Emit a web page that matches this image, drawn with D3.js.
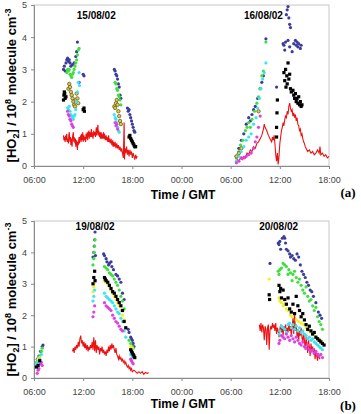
<!DOCTYPE html>
<html>
<head>
<meta charset="utf-8">
<script src="https://cdn.jsdelivr.net/npm/d3@7"></script>
<style>
body { margin: 0; background: #fff; }
text { font-family: Arial, "Liberation Sans", sans-serif; }
</style>
</head>
<body>
<svg id="chart" width="361" height="414"></svg>
<script>
// hours counted from 00:00 of the first day shown in each panel
const hourTicks = [6, 12, 18, 24, 30, 36, 42];
const yTicks = [0, 1, 2, 3, 4, 5];

// ---- panel (a): 15/08/02 and 16/08/02 ----
const aBlue = [[9.6,3.0],[9.7,3.1],[9.8,2.95],[9.9,3.2],[10.0,3.3],[10.1,3.35],[10.2,3.25],[10.3,3.3],[10.4,3.2],[10.5,3.1],[10.7,3.15],[10.9,3.2],[11.1,3.4],[11.2,3.55],[11.3,3.85],[11.5,2.6],[12.0,2.85],[12.1,2.8],
  [15.8,3.0],[15.9,2.95],[16.0,2.85],[16.1,2.8],[16.2,2.7],[16.3,2.55],[16.4,2.45],[16.5,2.2],[16.6,2.1],[17.4,1.8],[17.5,1.7],[17.6,1.75],[17.7,1.6],[17.8,1.5],[17.9,1.4],[18.0,1.3],[18.1,1.2],[18.2,1.1],[18.3,1.05],
  [30.7,0.3],[31.0,0.55],[31.3,0.8],[31.6,1.0],[31.9,1.3],[32.2,1.5],[32.4,1.4],[32.6,1.6],[32.8,1.75],[33.0,1.85],[33.3,2.1],[33.6,2.4],[33.8,2.6],[34.0,2.8],[34.3,3.95],[35.6,2.45],
  [36.4,3.8],[36.5,3.75],[36.6,3.6],[36.7,3.85],[36.8,4.7],[36.9,4.85],[37.0,4.95],[37.1,4.6],[37.2,4.4],[37.3,4.3],[37.0,3.9],[37.2,3.7],[37.5,3.55],[37.7,3.8],[37.9,3.9],[38.0,3.75],[38.1,3.85],[38.2,3.7],[38.3,3.8],[38.5,3.65],[38.6,3.75]];
const aGreen = [[10.0,2.9],[10.1,3.0],[10.2,2.95],[10.3,3.0],[10.4,2.85],[10.5,2.8],[10.6,2.75],[10.7,2.85],[10.8,2.9],[10.9,3.0],[11.0,3.1],[11.1,3.2],[11.2,3.3],[11.3,3.45],[11.4,3.6],[11.5,3.65],
  [15.9,2.6],[16.0,2.55],[16.1,2.4],[16.2,2.35],[16.3,2.2],[16.4,2.15],[16.5,2.05],[16.6,1.9],
  [30.7,0.25],[31.0,0.45],[31.2,0.65],[31.5,0.8],[31.8,1.1],[32.0,1.2],[32.2,1.35],[32.4,1.2],[32.6,1.45],[32.9,1.7],[33.2,1.95],[33.4,2.15],[33.6,2.4],[33.8,2.8],[34.0,2.95],[34.3,3.85]];
const aOlive = [[10.2,2.4],[10.3,2.55],[10.4,2.45],[10.5,2.3],[10.6,2.2],[10.7,2.1],[10.8,2.0],[10.9,1.9],[11.0,1.85],[11.1,2.05],[11.2,2.25],[11.3,2.1],[11.4,1.95],
  [15.8,1.85],[15.9,1.8],[16.0,1.95],[16.1,2.05],[16.2,1.9],[16.3,1.7],[16.4,1.55],[16.5,1.4],[16.6,1.3],
  [30.7,0.3],[31.0,0.4],[31.3,0.55],[33.4,1.7]];
const aBlack = [[9.6,2.05],[9.65,2.2],[9.7,2.3],[9.75,2.25],[9.8,2.1],[9.9,2.15],[12.0,1.75],[12.1,1.8],[12.15,1.7],
  [17.6,0.9],[17.7,0.95],[17.8,0.85],[17.9,0.8],[18.0,0.75],[18.1,0.7],[18.2,0.65],[18.3,0.6],[18.4,0.6],
  [35.6,0.9],[35.6,1.2],[35.65,1.65],[35.7,2.05],
  [36.5,2.9],[36.6,2.65],[36.7,3.0],[36.75,2.45],[36.85,2.8],[36.9,2.55],[37.0,3.2],[37.1,2.7],[37.2,2.85],[37.3,2.4],[37.4,2.3],[37.6,2.35],[37.7,2.2],[37.8,2.1],[37.9,2.25],[38.0,2.0],[38.1,2.1],[38.2,1.95],[38.3,2.15],[38.4,1.9],[38.5,2.0],[38.6,1.85],[38.7,1.9]];
const aCyan = [[10.1,1.8],[10.2,1.75],[10.3,1.85],[10.4,1.7],[10.5,1.6],[10.6,1.55],[10.7,1.5],[10.8,1.45],[10.9,1.55],[11.0,1.6],[11.1,1.75],[11.2,2.0],[11.3,2.3],[11.4,2.6],[11.5,2.9],[11.55,2.5],
  [15.8,1.6],[15.9,1.5],[16.0,1.45],[16.1,1.35],[16.2,1.2],[16.3,1.1],[16.4,1.05],
  [30.7,0.15],[31.0,0.3],[31.3,0.45],[31.6,0.6],[31.9,0.8],[32.2,0.9],[32.5,1.0],[32.8,1.3],[33.1,1.5],[33.3,1.8],[33.5,2.1],[33.7,2.4],[33.9,2.7],[34.1,2.9],[34.3,3.2]];
const aMagenta = [[10.1,1.7],[10.2,1.6],[10.3,1.55],[10.4,1.45],[10.5,1.4],[10.6,1.3],[10.7,1.25],[10.8,1.2],
  [15.9,1.35],[16.0,1.25],[16.1,1.3],[16.2,1.15],
  [30.7,0.1],[31.0,0.15],[31.3,0.25],[31.6,0.25],[31.9,0.3],[32.2,0.35],[32.5,0.4],[32.8,0.55],[33.0,0.75],[33.2,0.9],[33.4,1.2],[33.6,1.55]];
const aRed1 = [[9.6,0.95],[9.65,0.8],[9.7,0.9],[9.8,0.75],[9.85,0.95],[9.9,0.8],[10.0,1.0],[10.05,0.75],[10.1,0.85],[10.2,0.7],[10.25,0.95],[10.3,1.05],[10.4,0.75],[10.45,0.9],[10.5,0.65],[10.6,0.85],[10.65,0.6],[10.7,0.9],[10.8,1.05],[10.85,0.75],[10.9,0.9],[11.0,0.7],[11.05,0.85],[11.1,0.6],[11.2,0.8],[11.3,0.5],[11.35,0.75],[11.4,0.65],[11.5,0.9],[11.55,0.7],[11.6,0.85],[11.7,0.95],[11.75,0.75],[11.8,1.0],[11.9,0.8],[11.95,1.05],[12.0,0.75],[12.1,0.95],[12.15,0.8],[12.2,0.9],[12.3,0.75],[12.35,1.0],[12.4,0.85],[12.5,1.05],[12.55,0.8],[12.6,0.95],[12.7,1.1],[12.75,0.85],[12.8,1.05],[12.9,0.9],[13.0,1.15],[13.05,0.9],[13.1,1.05],[13.2,0.85],[13.3,1.1],[13.35,0.95],[13.4,1.05],[13.5,0.9],[13.6,1.2],[13.65,0.95],[13.7,1.05],[13.8,1.28],[13.85,0.95],[13.9,1.1],[14.0,0.9],[14.05,1.05],[14.1,0.85],[14.2,1.05],[14.25,0.85],[14.3,1.0],[14.4,0.85],[14.5,1.05],[14.55,0.85],[14.6,1.0],[14.7,0.8],[14.8,0.95],[14.85,0.8],[14.9,0.9],[15.0,0.75],[15.1,0.95],[15.15,0.75],[15.2,0.85],[15.3,0.7],[15.4,0.85],[15.5,0.65],[15.6,0.8],[15.65,0.6],[15.7,0.75],[15.8,0.6],[15.9,0.75],[16.0,0.55],[16.1,0.7],[16.2,0.55],[16.3,0.65],[16.4,0.5],[16.5,0.6],[16.6,0.45],[16.7,0.55],[16.8,0.4],[16.9,0.25],[17.0,1.35],[17.05,0.2],[17.1,0.55],[17.2,0.4],[17.3,0.6],[17.4,0.35],[17.5,0.5],[17.6,0.3],[17.7,0.5],[17.8,0.35],[17.9,0.45],[18.0,0.25],[18.1,0.4],[18.2,0.3],[18.3,0.2],[18.4,0.35],[18.5,0.25],[18.6,0.3]];
const aRed2 = [[30.6,0.12],[30.8,0.2],[31.0,0.15],[31.2,0.25],[31.4,0.2],[31.6,0.3],[31.8,0.25],[32.0,0.4],[32.2,0.35],[32.4,0.5],[32.6,0.45],[32.8,0.6],[33.0,0.55],[33.2,0.7],[33.4,0.75],[33.6,0.85],[33.8,0.95],[34.0,1.15],[34.1,1.3],[34.2,1.2],[34.4,1.1],[34.6,0.95],[34.8,0.85],[35.0,0.75],[35.1,0.9],[35.2,0.8],[35.3,0.95],[35.4,0.7],[35.5,0.35],[35.6,0.15],[35.7,0.4],[35.8,0.05],[35.9,0.3],[36.0,0.7],[36.1,0.9],[36.2,1.1],[36.3,1.2],[36.4,1.35],[36.5,1.25],[36.6,1.45],[36.7,1.55],[36.8,1.5],[36.9,1.7],[37.0,1.6],[37.1,1.85],[37.2,1.95],[37.3,1.8],[37.4,1.7],[37.5,1.75],[37.6,1.55],[37.7,1.65],[37.8,1.5],[37.9,1.6],[38.0,1.4],[38.1,1.5],[38.2,1.3],[38.3,1.25],[38.4,1.1],[38.5,1.15],[38.6,0.95],[38.7,1.0],[38.8,0.85],[38.9,0.75],[39.0,0.7],[39.1,0.6],[39.2,0.55],[39.3,0.5],[39.4,0.45],[39.6,0.5],[39.8,0.4],[40.0,0.45],[40.2,0.35],[40.4,0.4],[40.6,0.5],[40.8,0.4],[40.9,0.6],[41.0,0.35],[41.2,0.4],[41.4,0.3],[41.6,0.35],[41.8,0.25],[42.0,0.3]];

// ---- panel (b): 19/08/02 and 20/08/02 ----
const bBlue = [[6.4,0.6],[6.6,0.7],[6.8,0.85],[7.0,1.0],[7.1,1.05],
  [13.2,3.85],[13.3,4.0],[13.35,4.2],[13.4,4.4],[13.45,4.65],[13.5,3.9],
  [14.5,3.95],[14.6,3.9],[14.8,3.8],[14.9,3.7],[15.1,3.6],[15.2,3.65],[15.4,3.7],[15.5,3.55],[15.7,3.45],[16.0,3.3],[16.2,3.25],[16.4,3.15],[16.6,3.05],[16.8,2.7],[17.0,2.5],[17.5,1.55],[17.6,1.45],[17.8,1.3],[17.9,1.25],[18.0,1.2],[18.1,1.1],[18.2,1.0],
  [34.8,3.65],[35.8,4.3],[35.9,4.25],[36.0,4.35],[36.1,4.1],[36.3,4.45],[36.5,4.5],[36.6,4.45],[36.7,4.3],[36.8,4.1],[37.0,4.05],[37.2,3.95],[37.3,3.85],[37.5,3.9],[37.7,3.8],[37.9,3.75],[38.1,3.95],[38.3,3.85],[38.5,3.6],[38.7,3.4],[38.9,3.3],[39.1,3.2],[39.3,3.05],[39.5,2.95],[39.7,2.8],[39.9,2.75],[40.1,2.6],[40.4,2.4],[40.7,2.1],[40.9,2.0],[41.1,1.9]];
const bGreen = [[6.3,0.5],[6.5,0.6],[6.7,0.7],[6.9,0.85],[7.0,0.95],
  [13.2,3.6],[13.3,3.8],[13.35,4.0],[13.4,4.2],[13.45,4.4],
  [14.6,3.55],[14.8,3.5],[15.0,3.45],[15.2,3.35],[15.4,3.3],[15.6,3.25],[15.8,3.15],[16.0,3.05],[16.2,2.95],[16.4,2.8],[16.6,2.6],[16.8,2.45],[17.0,2.2],[17.6,1.2],[17.8,1.1],[18.0,1.0],[18.1,0.95],
  [35.8,3.4],[35.9,3.3],[36.0,3.45],[36.2,3.5],[36.4,3.65],[36.6,3.6],[36.8,3.55],[37.0,3.3],[37.1,3.45],[37.3,3.35],[37.5,3.1],[37.6,3.3],[37.8,3.4],[38.0,3.2],[38.2,3.05],[38.4,3.15],[38.6,2.95],[38.8,2.8],[39.0,2.7],[39.2,2.9],[39.4,2.6],[39.6,2.45],[39.8,2.5],[40.0,2.3],[40.2,2.15],[40.4,2.25],[40.6,1.95],[40.8,1.8],[41.0,1.7],[41.2,1.55]];
const bYellow = [[6.5,0.6],[6.7,0.65],
  [13.2,2.75],[13.3,2.9],[13.4,3.05],
  [14.6,3.1],[14.8,3.05],[15.0,3.0],[15.2,2.9],[15.4,2.8],[15.6,2.7],[15.8,2.6],[16.0,2.5],[16.2,2.4],[16.4,2.3],[16.6,2.15],[16.8,2.0],[17.0,1.85],[17.8,1.0],[18.0,0.95],
  [34.7,3.15],[35.9,2.55],[36.0,2.45],[36.2,2.4],[36.4,2.3],[36.6,2.35],[36.8,2.2],[37.0,2.15],[37.3,2.0],[37.5,1.95],[37.8,2.05],[38.0,1.85],[38.3,1.8],[38.6,1.75],[38.9,1.7],[39.2,1.6],[39.5,1.5],[39.8,1.45],[40.1,1.4],[40.4,1.3],[40.7,1.25],[41.0,1.2]];
const bBlack = [[6.3,0.35],[6.5,0.4],[6.7,0.55],
  [13.2,3.0],[13.3,3.2],[13.4,3.4],[13.45,3.1],
  [14.6,3.2],[14.7,3.15],[14.8,3.1],[15.0,3.05],[15.2,2.95],[15.4,2.85],[15.6,2.75],[15.8,2.7],[16.0,2.6],[16.2,2.5],[16.4,2.4],[16.6,2.3],[16.8,2.15],[17.0,1.8],[17.2,1.6],[17.8,0.9],[17.9,0.85],[18.0,0.8],[18.1,0.75],[18.2,0.7],[18.3,0.65],
  [34.7,2.65],[34.75,2.5],[35.9,2.95],[36.0,2.75],[36.1,2.85],[36.2,2.55],[36.4,2.8],[36.6,2.5],[36.8,2.35],[37.0,2.55],[37.2,2.2],[37.4,2.1],[37.6,2.35],[37.8,2.05],[38.0,2.6],[38.2,2.3],[38.4,2.15],[38.6,1.95],[38.8,2.05],[39.0,1.85],[39.2,1.7],[39.4,1.55],[39.6,1.65],[39.8,1.5],[40.0,1.4],[40.2,1.45],[40.4,1.3],[40.6,1.25],[40.8,1.2],[41.0,1.15],[41.2,1.1],[41.4,1.05]];
const bCyan = [[6.3,0.45],[6.5,0.5],[6.7,0.6],[6.9,0.75],
  [13.2,2.45],[13.3,2.6],[13.4,2.8],
  [14.6,2.7],[14.8,2.6],[15.0,2.55],[15.2,2.5],[15.4,2.45],[15.6,2.4],[15.8,2.3],[16.0,2.2],[16.2,2.1],[16.4,2.05],[16.6,1.9],[16.8,1.8],[17.0,1.5],[17.2,1.3],[17.8,0.75],[18.0,0.7],[18.1,0.65],
  [35.9,1.4],[36.0,1.5],[36.2,1.65],[36.4,1.6],[36.6,1.55],[36.8,1.45],[37.0,1.7],[37.2,1.75],[37.4,1.6],[37.6,1.7],[37.8,1.55],[38.0,1.65],[38.2,1.5],[38.4,1.6],[38.6,1.45],[38.8,1.5],[39.0,1.4],[39.2,1.35],[39.4,1.25],[39.6,1.3],[39.8,1.2],[40.0,1.25],[40.2,1.15],[40.4,1.1],[40.6,1.05],[40.8,1.0],[41.0,0.95],[41.2,0.9]];
const bMagenta = [[6.4,0.15],[6.5,0.25],[6.6,0.3],[6.8,0.45],[6.9,0.5],[7.0,0.4],
  [13.2,1.95],[13.3,2.1],[13.4,2.3],
  [14.6,2.4],[14.8,2.3],[15.0,2.25],[15.2,2.2],[15.4,2.15],[15.6,2.0],[15.8,1.9],[16.0,1.8],[16.2,1.75],[16.4,1.65],[16.6,1.55],[16.8,1.5],[17.8,0.6],[17.9,0.55],[18.0,0.5],[18.1,0.45],
  [35.9,1.1],[36.0,1.2],[36.2,1.35],[36.4,1.3],[36.6,1.25],[36.8,1.4],[37.0,1.3],[37.2,1.2],[37.4,1.35],[37.6,1.25],[37.8,1.15],[38.0,1.3],[38.2,1.2],[38.4,1.1],[38.6,1.05],[38.8,1.15],[39.0,1.0],[39.2,0.95],[39.4,1.05],[39.6,0.9],[39.8,0.85],[40.0,0.9],[40.2,0.8],[40.4,0.85],[40.6,0.75],[40.8,0.7],[41.0,0.75],[41.2,0.65]];
const bRed1 = [[10.7,0.85],[10.8,0.95],[10.9,0.8],[11.0,1.0],[11.1,0.9],[11.2,1.05],[11.3,0.95],[11.4,1.15],[11.5,1.0],[11.6,1.25],[11.7,1.35],[11.8,1.1],[11.9,1.2],[12.0,1.0],[12.1,1.15],[12.2,0.95],[12.3,1.1],[12.4,0.9],[12.5,1.05],[12.6,0.85],[12.7,1.0],[12.8,0.9],[12.9,1.05],[13.0,0.95],[13.1,1.15],[13.2,0.9],[13.3,1.3],[13.4,0.85],[13.5,1.2],[13.6,0.8],[13.7,1.05],[13.8,0.9],[13.9,1.0],[14.0,0.75],[14.1,0.95],[14.2,0.85],[14.3,1.0],[14.4,0.8],[14.5,0.9],[14.6,0.75],[14.7,0.85],[14.8,0.7],[14.9,0.9],[15.0,0.8],[15.1,1.0],[15.2,0.85],[15.3,1.05],[15.4,0.9],[15.5,1.1],[15.6,0.95],[15.7,1.05],[15.8,0.9],[15.9,0.8],[16.0,0.95],[16.1,0.75],[16.2,0.7],[16.3,0.6],[16.4,0.7],[16.5,0.6],[16.6,0.65],[16.7,0.55],[16.8,0.6],[16.9,0.5],[17.0,0.55],[17.1,0.45],[17.2,0.5],[17.3,0.4],[17.4,0.35],[17.5,0.4],[17.6,0.3],[17.7,0.35],[17.8,0.25],[17.9,0.3],[18.0,0.2],[18.2,0.25],[18.4,0.2],[18.6,0.15],[18.8,0.2],[19.0,0.15],[19.2,0.2],[19.4,0.12],[19.6,0.18],[19.8,0.15],[20.0,0.17]];
const bRed2 = [[33.5,1.7],[33.6,1.5],[33.7,1.75],[33.8,1.45],[33.9,1.7],[34.0,1.6],[34.1,1.2],[34.2,1.65],[34.3,1.55],[34.4,1.05],[34.5,1.6],[34.6,1.7],[34.7,0.9],[34.8,1.5],[34.9,1.65],[35.0,1.55],[35.1,1.75],[35.2,1.6],[35.3,1.7],[35.4,1.5],[35.5,1.75],[35.6,1.4],[35.7,1.6],[35.8,1.5],[35.9,1.3],[36.0,1.55],[36.1,1.7],[36.2,1.45],[36.3,1.6],[36.4,1.35],[36.5,1.65],[36.6,1.5],[36.7,1.7],[36.8,1.4],[36.9,1.6],[37.0,1.45],[37.1,1.75],[37.2,1.5],[37.3,1.65],[37.4,1.35],[37.5,1.6],[37.6,1.9],[37.7,1.4],[37.8,2.1],[37.9,1.5],[38.0,1.7],[38.1,1.3],[38.2,1.55],[38.3,1.2],[38.4,1.5],[38.5,1.35],[38.6,1.6],[38.7,1.3],[38.8,1.1],[38.9,1.45],[39.0,1.2],[39.1,0.9],[39.2,1.3],[39.3,1.1],[39.4,0.8],[39.5,1.2],[39.6,1.0],[39.7,0.7],[39.8,1.1],[39.9,0.9],[40.0,1.0],[40.1,0.75],[40.2,0.95],[40.3,0.6],[40.4,0.85],[40.5,0.7],[40.6,0.55],[40.7,0.8],[40.8,0.65],[40.9,0.6]];

const colors = {
  blue: '#3c3c9c', green: '#3ee03e', olive: '#d8cc50', black: '#000000',
  cyan: '#3ce4f2', magenta: '#e040e0', yellow: '#f2f020', red: '#ee1111'
};

const svg = d3.select('#chart');

function drawPanel(p) {
  const x = d3.scaleLinear().domain([6, 42]).range([34, 329]);
  const y = d3.scaleLinear().domain([0, 5]).range([p.bottom, p.top]);
  const g = svg.append('g');

  // light plot frame (top and right)
  g.append('rect')
    .attr('x', x(6)).attr('y', y(5))
    .attr('width', x(42) - x(6)).attr('height', y(0) - y(5))
    .attr('fill', 'none').attr('stroke', '#c8c8c8');

  const xAxis = d3.axisBottom(x).tickValues(hourTicks).tickSize(3).tickPadding(8)
    .tickFormat(h => String(h % 24).padStart(2, '0') + ':00');
  const yAxis = d3.axisLeft(y).tickValues(yTicks).tickSize(3).tickPadding(4)
    .tickFormat(d3.format('d'));

  g.append('g').attr('transform', `translate(0,${y(0)})`).call(xAxis);
  g.append('g').attr('transform', `translate(${x(6)},0)`).call(yAxis);
  g.selectAll('.domain').attr('stroke', '#8a8a8a');
  g.selectAll('.tick line').attr('stroke', '#8a8a8a');
  g.selectAll('.tick text').attr('fill', '#444').style('font-size', '9px')
    .style('font-family', 'Arial, "Liberation Sans", sans-serif');

  const line = d3.line().x(d => x(d[0])).y(d => y(d[1]));
  p.red.forEach(seg => {
    g.append('path').datum(seg).attr('d', line)
      .attr('fill', 'none').attr('stroke', colors.red).attr('stroke-width', 1.1);
  });

  p.series.forEach(s => {
    const sel = g.append('g').selectAll('.pt').data(s.data);
    if (s.shape === 'square') {
      sel.join('rect')
        .attr('x', d => x(d[0]) - 1.6).attr('y', d => y(d[1]) - 1.6)
        .attr('width', 3.2).attr('height', 3.2).attr('fill', colors[s.color]);
    } else if (s.shape === 'ring') {
      sel.join('circle')
        .attr('cx', d => x(d[0])).attr('cy', d => y(d[1])).attr('r', 1.7)
        .attr('fill', colors[s.color]).attr('stroke', '#6e5a1e').attr('stroke-width', 0.8);
    } else {
      sel.join('circle')
        .attr('cx', d => x(d[0])).attr('cy', d => y(d[1])).attr('r', 1.6)
        .attr('fill', colors[s.color]);
    }
  });

  // date labels
  p.dates.forEach(dl => {
    g.append('text').attr('x', x(dl.h)).attr('y', p.dateY)
      .attr('text-anchor', 'middle').style('font-size', '10px').style('font-weight', 'bold')
      .text(dl.label);
  });

  // y title
  const yt = g.append('text')
    .attr('transform', `translate(16,${(y(0) + y(5)) / 2}) rotate(-90)`)
    .attr('text-anchor', 'middle').style('font-size', '13px').style('font-weight', 'bold');
  yt.append('tspan').text('[HO');
  yt.append('tspan').attr('dy', 3).style('font-size', '9px').text('2');
  yt.append('tspan').attr('dy', -3).text('] / 10');
  yt.append('tspan').attr('dy', -5).style('font-size', '9px').text('8');
  yt.append('tspan').attr('dy', 5).text(' molecule cm');
  yt.append('tspan').attr('dy', -5).style('font-size', '9px').text('-3');

  // x title
  g.append('text').attr('x', 183).attr('y', p.titleY)
    .attr('text-anchor', 'middle').style('font-size', '12px').style('font-weight', 'bold')
    .text('Time / GMT');

  g.append('text').attr('x', 348).attr('y', p.letterY)
    .attr('text-anchor', 'middle').style('font-size', '13px').style('font-weight', 'bold')
    .style('font-family', '"Liberation Serif", "Times New Roman", serif')
    .text(p.letter);
}

drawPanel({
  top: 5, bottom: 166, dateY: 18.5, titleY: 199, letterY: 197, letter: '(a)',
  dates: [{ h: 13.6, label: '15/08/02' }, { h: 34.0, label: '16/08/02' }],
  red: [aRed1, aRed2],
  series: [
    { data: aBlue, color: 'blue', shape: 'dot' },
    { data: aGreen, color: 'green', shape: 'dot' },
    { data: aOlive, color: 'olive', shape: 'ring' },
    { data: aCyan, color: 'cyan', shape: 'dot' },
    { data: aMagenta, color: 'magenta', shape: 'dot' },
    { data: aBlack, color: 'black', shape: 'square' }
  ]
});

drawPanel({
  top: 221, bottom: 378, dateY: 229.5, titleY: 408, letterY: 410, letter: '(b)',
  dates: [{ h: 13.45, label: '19/08/02' }, { h: 35.85, label: '20/08/02' }],
  red: [bRed1, bRed2],
  series: [
    { data: bBlue, color: 'blue', shape: 'dot' },
    { data: bGreen, color: 'green', shape: 'dot' },
    { data: bYellow, color: 'yellow', shape: 'dot' },
    { data: bCyan, color: 'cyan', shape: 'dot' },
    { data: bMagenta, color: 'magenta', shape: 'dot' },
    { data: bBlack, color: 'black', shape: 'square' }
  ]
});
</script>
</body>
</html>
